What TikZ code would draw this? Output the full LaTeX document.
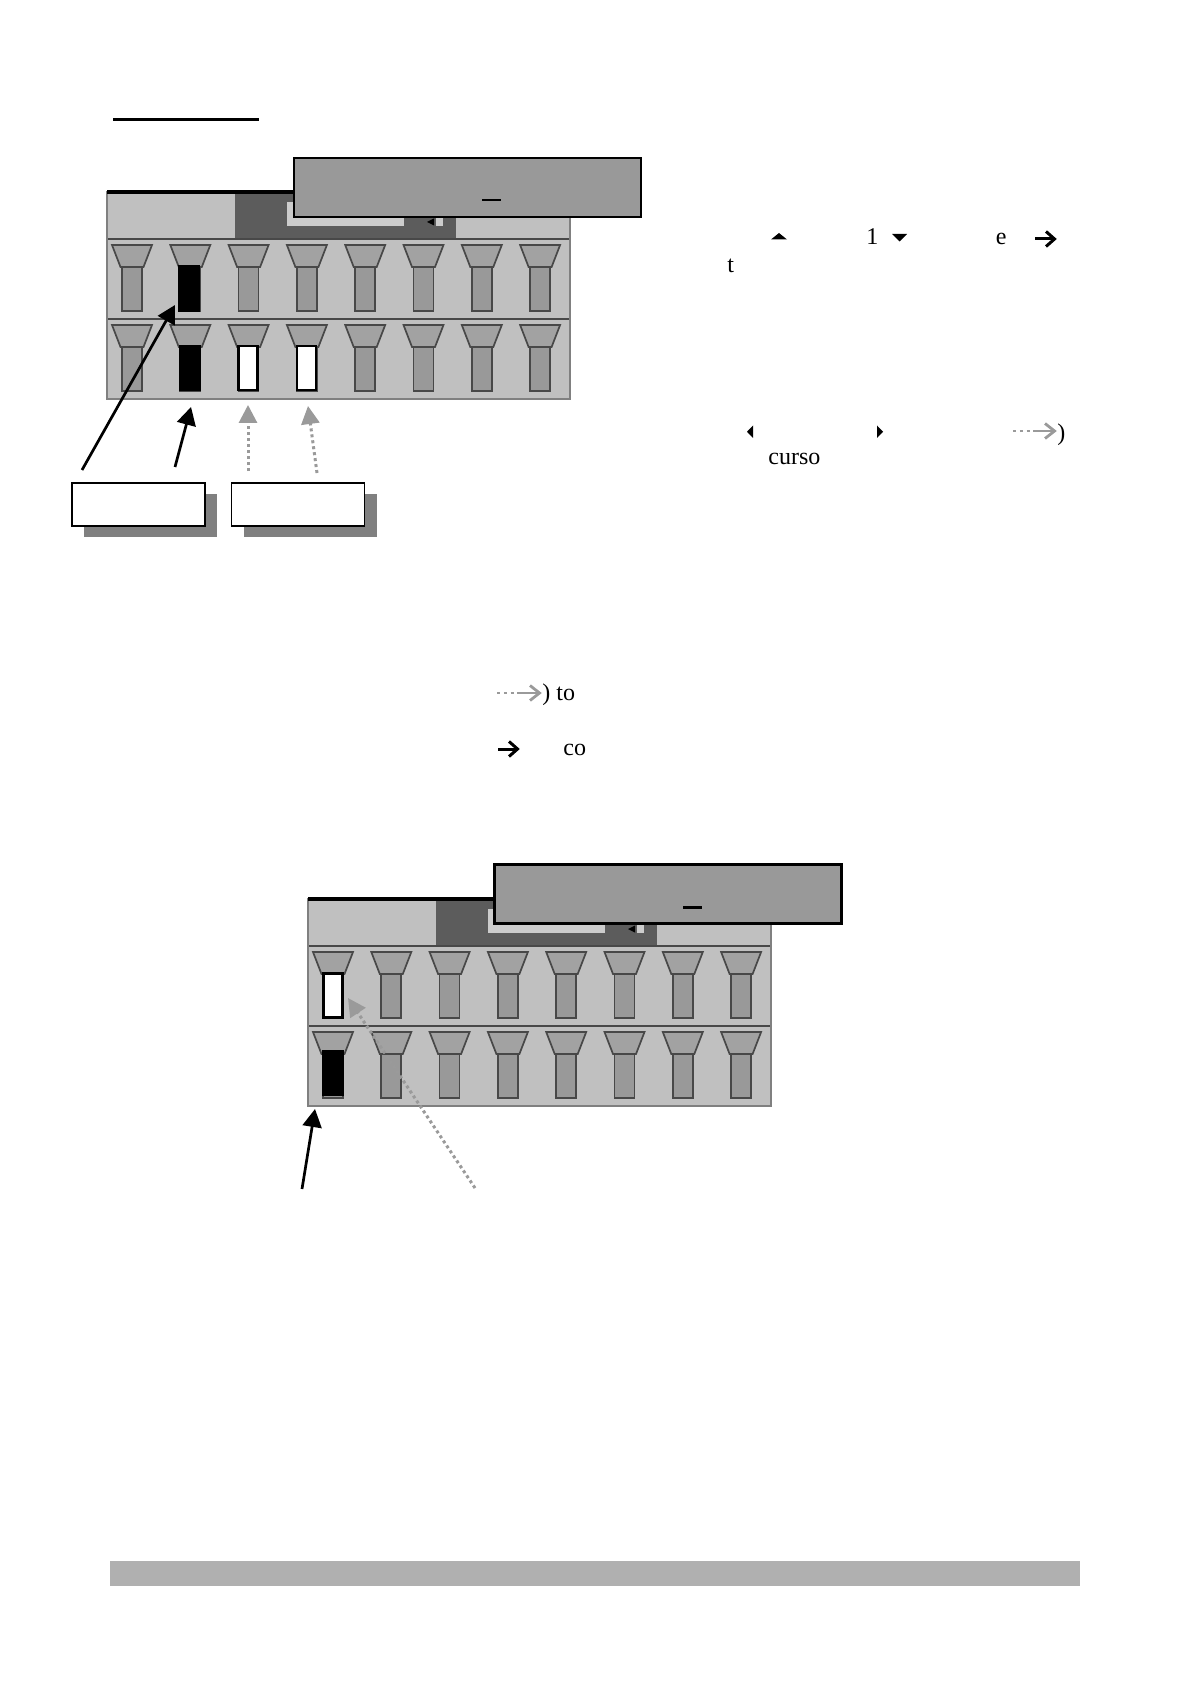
\documentclass[tikz,border=0pt]{standalone}
\usepackage{fontspec}
\setmainfont{Liberation Serif}
\usetikzlibrary{arrows.meta}
\definecolor{panelbg}{HTML}{C0C0C0}
\definecolor{hdrdark}{HTML}{5C5C5C}
\definecolor{hdrlight}{HTML}{CCCCCC}
\definecolor{btnfill}{HTML}{A2A2A2}
\definecolor{btnline}{HTML}{484848}
\definecolor{stemfill}{HTML}{999999}
\definecolor{labfill}{HTML}{999999}
\definecolor{shadowc}{HTML}{808080}
\definecolor{arrgray}{HTML}{9A9A9A}
\definecolor{barc}{HTML}{B0B0B0}
\tikzset{
  panel/.pic={
    \fill[panelbg] (0,0) rectangle (463,207);
    \fill[hdrdark] (128,0) rectangle (349,47);
    \fill[hdrlight] (180,10) rectangle (297,34);
    \fill[black] (320,30) -- (327,26.5) -- (327,33.5) -- cycle;
    \fill[hdrlight] (329,26) rectangle (336,34);
    \draw[btnline, line width=1pt] (0,47) -- (463,47);
    \draw[btnline, line width=1pt] (0,127) -- (463,127);
    \draw[gray, line width=0.6pt] (0,0) rectangle (463,207);
    \draw[black, line width=1.6pt] (0,0) -- (463,0);
    \foreach \i in {0,...,7} {
      \foreach \r in {53,133} {
        \pgfmathsetmacro\cx{25+58.3*\i}
        \filldraw[fill=btnfill, draw=btnline, line width=0.85pt]
          (\cx-20,\r) -- (\cx+20,\r) -- (\cx+11.5,\r+22) -- (\cx-11.5,\r+22) -- cycle;
        \filldraw[fill=stemfill, draw=btnline, line width=0.85pt]
          (\cx-10,\r+22) rectangle (\cx+10,\r+66);
      }
    }
  },
  hlblack/.style={draw=black, fill=black, minimum width=10pt, minimum height=22.5pt, inner sep=0pt, line width=0.6pt},
  hlwhite/.style={draw=black, fill=white, minimum width=9.5pt, minimum height=22pt, inner sep=0pt, line width=1.1pt},
  graylabel/.style={draw=black, fill=labfill, line width=1.1pt, minimum width=173.5pt, minimum height=29.5pt, inner sep=0pt},
  whitebox/.style={draw=black, fill=white, line width=0.9pt, minimum width=66.5pt, minimum height=21.5pt, inner sep=0pt},
  shadowbox/.style={fill=shadowc, minimum width=66.5pt, minimum height=21.5pt, inner sep=0pt},
  blackarrow/.style={black, line width=1.35pt, -{Triangle[length=9pt,width=9.5pt]}},
  grayarrow/.style={arrgray, line width=1.5pt, dash pattern=on 1.5pt off 1.5pt, -{Triangle[length=9pt,width=9pt]}},
  txt/.style={font=\fontsize{12pt}{14pt}\selectfont, inner sep=0pt, anchor=base west}
}
\begin{document}
\begin{tikzpicture}[x=0.5pt,y=-0.5pt]
\useasboundingbox (0,0) rectangle (1190,1684);

% title underline
\draw[line width=1.7pt] (113,119.3) -- (259,119.3);

% first panel
\pic at (107,192) {panel};
\node[hlblack] (h1) at (189,288.5) {};
\node[hlblack] (h2) at (190,368) {};
\node[hlwhite] (h3) at (248,368) {};
\node[hlwhite] (h4) at (306.5,368) {};
\node[graylabel] (lab1) at (467.5,187.5) {};
\draw[line width=1.1pt] (482,200) -- (501,200);

% callout boxes
\node[shadowbox] (sh1) at (150.5,515.5) {};
\node[whitebox] (box1) at (138.5,504.5) {};
\node[shadowbox] (sh2) at (310,515.5) {};
\node[whitebox] (box2) at (298,504.5) {};

% arrows first panel
\coordinate (t1) at (82,470);
\coordinate (p1) at (175,305);
\coordinate (t2) at (175,467);
\coordinate (p2) at (191,407);
\coordinate (t3) at (248,471);
\coordinate (p3) at (248,405);
\coordinate (t4) at (317,473);
\coordinate (p4) at (308,406);
\draw[blackarrow] (t1) -- (p1);
\draw[blackarrow] (t2) -- (p2);
\draw[grayarrow] (t3) -- (p3);
\draw[grayarrow] (t4) -- (p4);

% right text
\fill (771,239.5) -- (787,239.5) -- (779,233) -- cycle;
\node[txt] (one) at (866,245) {1};
\fill (892,234) -- (907,234) -- (899.5,241.5) -- cycle;
\node[txt] (e1) at (995.5,245) {e};
\draw[line width=1.5pt] (1035,239) -- (1054,239);
\draw[line width=1.5pt] (1046,231.5) -- (1054.5,239) -- (1046,246.5);
\node[txt] (t) at (727,273) {t};
\fill (753,425.5) -- (753,438) -- (747,431.75) -- cycle;
\fill (877,425.5) -- (877,438) -- (883,431.75) -- cycle;
\draw[arrgray, line width=1.4pt, dash pattern=on 1.6pt off 1.8pt] (1013,431) -- (1034,431);
\draw[arrgray, line width=1.4pt] (1034,431) -- (1054,431);
\draw[arrgray, line width=1.4pt] (1045,423.5) -- (1054.5,431) -- (1045,438.5);
\node[txt] (par1) at (1057,440) {)};
\node[txt] (curso) at (768,465) {curso};

% middle text
\draw[arrgray, line width=1.4pt, dash pattern=on 1.6pt off 1.8pt] (497,693) -- (518,693);
\draw[arrgray, line width=1.4pt] (518,693) -- (539,693);
\draw[arrgray, line width=1.4pt] (530,685.5) -- (539.5,693) -- (530,700.5);
\node[txt] (par2) at (542,700) {) to};
\draw[line width=1.5pt] (498,749) -- (517,749);
\draw[line width=1.5pt] (509,741.5) -- (517.5,749) -- (509,756.5);
\node[txt] (co) at (563,755) {co};

% second panel
\pic at (308,899) {panel};
\node[hlwhite] (h5) at (333,995.5) {};
\node[hlblack] (h6) at (333,1073) {};
\node[graylabel] (lab2) at (668,894) {};
\draw[line width=1.1pt] (683,907.5) -- (702,907.5);

\coordinate (t5) at (302,1189);
\coordinate (p5) at (315,1109);
\coordinate (t6) at (475,1188);
\coordinate (p6) at (348,998);
\draw[blackarrow] (t5) -- (p5);
\draw[grayarrow] (t6) -- (p6);

% bottom bar
\fill[barc] (110,1561) rectangle (1080,1586);
\end{tikzpicture}
\end{document}
